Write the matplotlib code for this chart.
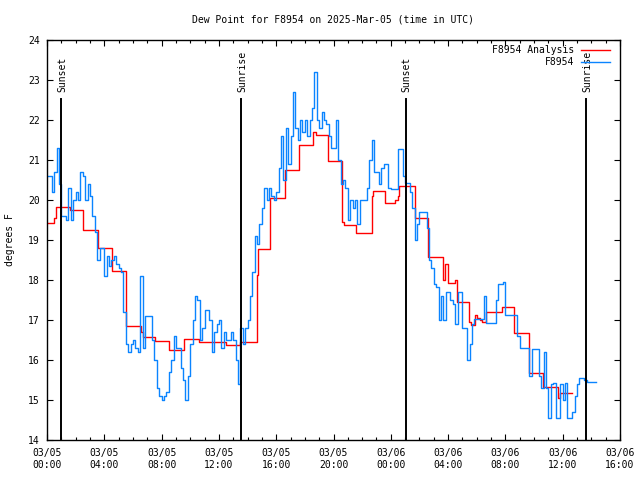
import numpy as np
import matplotlib
matplotlib.use("Agg")
import matplotlib.pyplot as plt

# hours since 03/05 00:00 UTC
XTICK_LABELS = ["03/05\n00:00", "03/05\n04:00", "03/05\n08:00", "03/05\n12:00",
                "03/05\n16:00", "03/05\n20:00", "03/06\n00:00", "03/06\n04:00",
                "03/06\n08:00", "03/06\n12:00", "03/06\n16:00"]
XTICK_HOURS = [0, 4, 8, 12, 16, 20, 24, 28, 32, 36, 40]

SUN_HOURS = [0.98, 13.55, 25.04, 37.62]
SUN_LABELS = ["Sunset", "Sunrise", "Sunset", "Sunrise"]

# analysis (step) series
ana_hours = [0.0, 0.5, 0.62, 1.6, 2.53, 3.58, 4.51, 5.5, 6.58, 6.68, 7.55, 8.55,
             9.58, 10.6, 12.5, 13.47, 14.63, 14.68, 14.73, 15.56, 16.61, 17.6,
             18.6, 18.75, 19.63, 20.58, 20.75, 21.6, 22.66, 22.75, 23.63, 24.3,
             24.5, 24.6, 25.68, 26.61, 27.66, 27.75, 27.97, 28.48, 28.6, 29.47,
             29.6, 29.85, 30.0, 30.2, 30.4, 30.68, 31.73, 32.61, 33.66, 34.63,
             35.68, 35.8, 36.68]
ana_vals = [19.42, 19.55, 19.83, 19.75, 19.25, 18.8, 18.22, 16.85, 16.7, 16.58,
            16.48, 16.25, 16.52, 16.46, 16.38, 16.46, 17.62, 18.13, 18.77, 20.04,
            20.75, 21.37, 21.7, 21.62, 20.97, 19.45, 19.37, 19.18, 20.1, 20.22,
            19.92, 20.0, 20.1, 20.35, 19.55, 18.58, 18.0, 18.4, 17.92, 18.0,
            17.45, 16.95, 16.87, 17.12, 17.05, 17.0, 16.96, 17.2, 17.32, 16.67,
            15.67, 15.33, 15.05, 15.17, 15.17]

# station observations, one value per 10 minutes from 03/05 00:00
obs_vals = [
    20.6, 20.6, 20.2, 20.7, 21.3, 20.4,        # 00h
    19.6, 19.6, 19.5, 20.3, 19.5, 20.0,        # 01h
    20.2, 20.0, 20.7, 20.6, 20.0, 20.4,        # 02h
    20.1, 19.6, 19.2, 18.5, 18.8, 18.8,        # 03h
    18.1, 18.6, 18.35, 18.5, 18.6, 18.4,       # 04h
    18.3, 18.2, 17.2, 16.4, 16.2, 16.4,        # 05h
    16.5, 16.3, 16.2, 18.1, 16.3, 17.1,        # 06h
    17.1, 17.1, 16.5, 16.0, 15.3, 15.1,        # 07h
    15.0, 15.1, 15.2, 15.7, 16.0, 16.6,        # 08h
    16.3, 16.3, 15.8, 15.5, 15.0, 15.6,        # 09h
    16.4, 17.0, 17.6, 17.5, 16.5, 16.8,        # 10h
    17.25, 17.25, 17.0, 16.2, 16.7, 16.9,      # 11h
    17.0, 16.3, 16.7, 16.5, 16.5, 16.7,        # 12h
    16.5, 16.0, 15.4, 16.8, 16.4, 16.8,        # 13h
    17.0, 17.6, 18.2, 19.1, 18.9, 19.4,        # 14h
    19.8, 20.3, 20.0, 20.3, 20.1, 20.0,        # 15h
    20.2, 20.8, 21.6, 20.5, 21.8, 20.9,        # 16h
    21.6, 22.7, 21.8, 21.5, 22.0, 21.7,        # 17h
    22.0, 21.6, 22.0, 22.3, 23.2, 22.0,        # 18h
    21.8, 22.2, 22.0, 21.9, 21.6, 21.3,        # 19h
    21.3, 22.0, 21.0, 20.4, 20.5, 20.3,        # 20h
    19.5, 20.0, 19.8, 20.0, 19.4, 20.0,        # 21h
    20.0, 20.0, 20.3, 21.0, 21.5, 20.7,        # 22h
    20.7, 20.4, 20.8, 20.9, 20.9, 20.3,        # 23h
    20.27, 20.27, 20.27, 21.27, 21.27, 20.6,   # 03/06 00h
    20.43, 20.43, 20.2, 19.8, 19.0, 19.4,      # 01h
    19.7, 19.7, 19.7, 19.3, 18.5, 18.3,        # 02h
    17.9, 17.83, 17.0, 17.6, 17.0, 17.7,       # 03h
    17.7, 17.5, 17.4, 16.9, 17.7, 17.7,        # 04h
    16.8, 16.8, 16.0, 16.4, 16.9, 17.03,       # 05h
    17.03, 17.03, 17.03, 17.6, 16.92, 16.92,   # 06h
    16.92, 16.92, 17.5, 17.9, 17.9, 17.95,     # 07h
    17.12, 17.12, 17.12, 17.12, 17.12, 16.6,   # 08h
    16.3, 16.3, 16.3, 16.3, 15.6, 16.27,       # 09h
    16.27, 16.27, 15.6, 15.3, 16.2, 15.3,      # 10h
    14.55, 15.4, 15.42, 14.55, 14.55, 15.4,    # 11h
    15.0, 15.42, 14.55, 14.55, 14.7, 15.1,     # 12h
    15.4, 15.55, 15.55, 15.5, 15.45, 15.45,    # 13h
    15.45, 15.45, 15.45,                       # 14h
]
obs_hours = np.arange(len(obs_vals)) / 6.0

FONT = "DejaVu Sans Mono"
FS = 7
RED, BLUE = "#ff0000", "#0a84ff"

plt.rcParams["font.family"] = FONT
plt.rcParams["font.size"] = FS

fig = plt.figure(figsize=(6.4, 4.8), dpi=100)
ax = fig.add_axes([47 / 640, 40 / 480, 573 / 640, 400 / 480])

ax.plot(ana_hours, ana_vals, drawstyle="steps-post", color=RED, lw=1.0,
        label="F8954 Analysis")
ax.plot(obs_hours, obs_vals, drawstyle="steps-post", color=BLUE, lw=1.0,
        label="F8954")

for h, lab in zip(SUN_HOURS, SUN_LABELS):
    ax.plot([h, h], [14, 22.52], color="black", lw=1.4)
    ax.text(h + 0.08, 22.7, lab, rotation=90, ha="center", va="bottom",
            fontsize=FS, family=FONT)

ax.set_xlim(0, 40)
ax.set_ylim(14, 24)
ax.set_xticks(XTICK_HOURS)
ax.set_xticklabels(XTICK_LABELS)
ax.set_xticks(range(0, 41), minor=True)
ax.set_yticks(range(14, 25))
ax.tick_params(which="both", direction="in", top=True, right=True,
               colors="black", labelsize=FS)
ax.tick_params(which="major", length=4.5, width=0.8)
ax.tick_params(which="minor", length=2.2, width=0.8)
ax.tick_params(axis="x", pad=6)
ax.tick_params(axis="y", pad=5)
for sp in ax.spines.values():
    sp.set_linewidth(1.0)

ax.set_title("Dew Point for F8954 on 2025-Mar-05 (time in UTC)", fontsize=FS,
             pad=12.5)
fig.text(10 / 640, 1 - 240 / 480, "degrees F", rotation=90, ha="center",
         va="center", fontsize=FS)

ax.legend(loc="upper right", bbox_to_anchor=(0.986, 0.9925), frameon=False,
          markerfirst=False, fontsize=FS, handlelength=3.0, handletextpad=0.7,
          labelspacing=0.25, borderaxespad=0.0, borderpad=0.2)

fig.savefig("out.png", dpi=100)
